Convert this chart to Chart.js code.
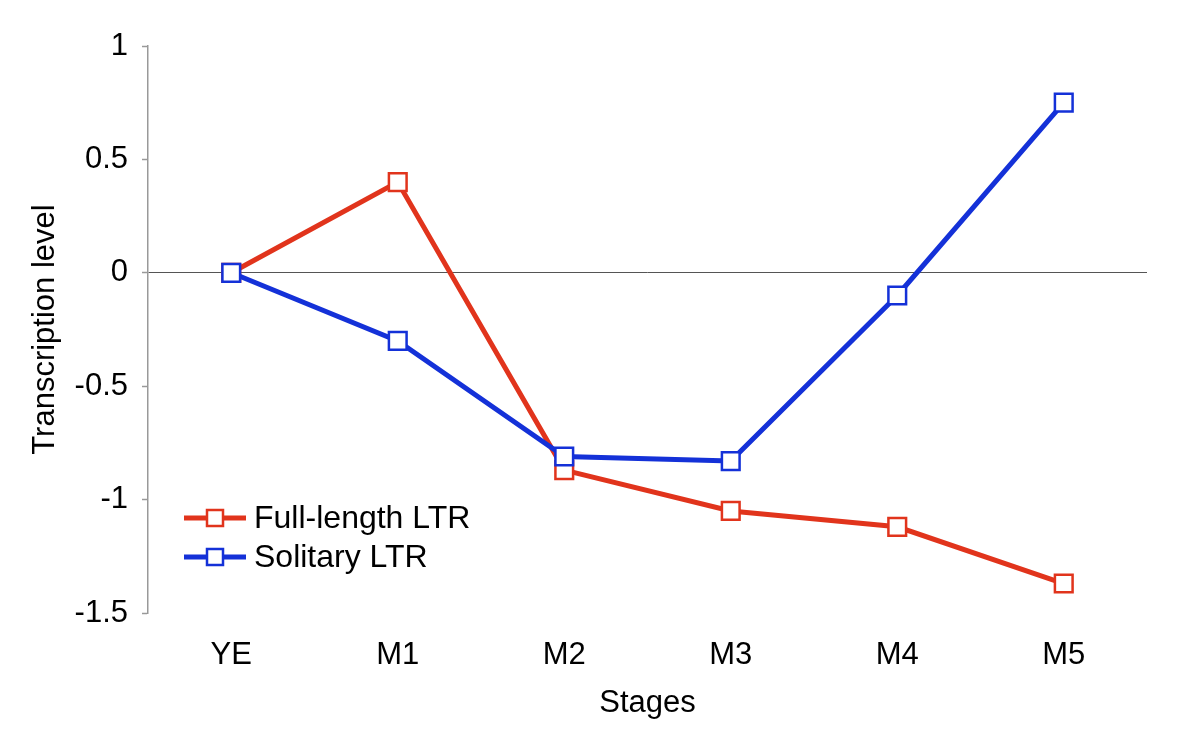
<!DOCTYPE html>
<html>
<head>
<meta charset="utf-8">
<script src="https://cdn.jsdelivr.net/npm/chart.js@4"></script>
<style>
  html, body { margin: 0; padding: 0; background: #fff; }
  #wrap { width: 1200px; height: 756px; }
</style>
</head>
<body>
<div id="wrap"><canvas id="myChart" width="1200" height="756"></canvas></div>
<script>
// data
const stages = ["YE", "M1", "M2", "M3", "M4", "M5"];
const fullLength = [0, 0.4, -0.87, -1.05, -1.12, -1.37];
const solitary = [0, -0.3, -0.81, -0.83, -0.1, 0.75];
const yTicks = [-1.5, -1, -0.5, 0, 0.5, 1];

const RED = "#e1341c";
const BLUE = "#1431d8";
const FONT = "'Liberation Sans', Arial, Helvetica, sans-serif";

// legend sits inside the plot, bottom left
const innerLegend = {
  id: "innerLegend",
  afterDatasetsDraw(chart) {
    const ctx = chart.ctx;
    const area = chart.chartArea;
    const items = [chart.data.datasets[1], chart.data.datasets[0]];
    items.forEach(function (ds, i) {
      const x0 = area.left + 36;
      const y = area.bottom - 95 + i * 39;
      ctx.save();
      ctx.strokeStyle = ds.borderColor;
      ctx.lineWidth = 5;
      ctx.beginPath();
      ctx.moveTo(x0, y);
      ctx.lineTo(x0 + 62, y);
      ctx.stroke();
      ctx.fillStyle = "#fff";
      ctx.lineWidth = 2.5;
      ctx.fillRect(x0 + 23, y - 8, 16, 16);
      ctx.strokeRect(x0 + 23, y - 8, 16, 16);
      ctx.fillStyle = "#000";
      ctx.font = "32px " + FONT;
      ctx.textBaseline = "middle";
      ctx.fillText(ds.label, x0 + 70, y + 1);
      ctx.restore();
    });
  },
};

const ctx = document.getElementById("myChart");
new Chart(ctx, {
  type: "line",
  data: {
    labels: stages,
    datasets: [
      {
        label: "Solitary LTR",
        data: solitary,
        borderColor: BLUE,
        borderWidth: 5,
        pointStyle: "rect",
        pointRadius: 12.5,
        pointBorderWidth: 2.5,
        pointBackgroundColor: "#fff",
        pointBorderColor: BLUE,
        tension: 0,
        order: 1,
      },
      {
        label: "Full-length LTR",
        data: fullLength,
        borderColor: RED,
        borderWidth: 5,
        pointStyle: "rect",
        pointRadius: 12.5,
        pointBorderWidth: 2.5,
        pointBackgroundColor: "#fff",
        pointBorderColor: RED,
        tension: 0,
        order: 2,
      },
    ],
  },
  options: {
    responsive: false,
    animation: false,
    devicePixelRatio: 1,
    layout: { padding: { top: 46, right: 53, bottom: 0, left: 0 } },
    plugins: {
      legend: { display: false },
      tooltip: { enabled: false },
    },
    scales: {
      x: {
        offset: true,
        grid: { display: false, drawTicks: false },
        border: { display: false },
        ticks: { color: "#000", font: { family: FONT, size: 31 }, padding: 24 },
        title: {
          display: true,
          text: "Stages",
          color: "#000",
          font: { family: FONT, size: 31 },
          padding: { top: 0, bottom: 34 },
        },
        afterFit(scale) {
          scale.height = 143;
        },
      },
      y: {
        min: -1.5,
        max: 1,
        afterBuildTicks(scale) {
          scale.ticks = yTicks.map((v) => ({ value: v }));
        },
        grid: {
          color: (c) => (c.tick && c.tick.value === 0 ? "#555" : "rgba(0,0,0,0)"),
          lineWidth: 1,
          drawTicks: true,
          tickLength: 6,
          tickColor: "#999",
          tickWidth: 1.5,
        },
        border: { display: true, color: "#999", width: 1.5 },
        ticks: {
          color: "#000",
          font: { family: FONT, size: 31 },
          padding: 14,
          callback: (v) => String(v),
        },
        title: {
          display: true,
          text: "Transcription level",
          color: "#000",
          font: { family: FONT, size: 31 },
          padding: { top: 27, bottom: 0 },
        },
        afterFit(scale) {
          scale.width = 148;
        },
      },
    },
  },
  plugins: [innerLegend],
});
</script>
</body>
</html>
